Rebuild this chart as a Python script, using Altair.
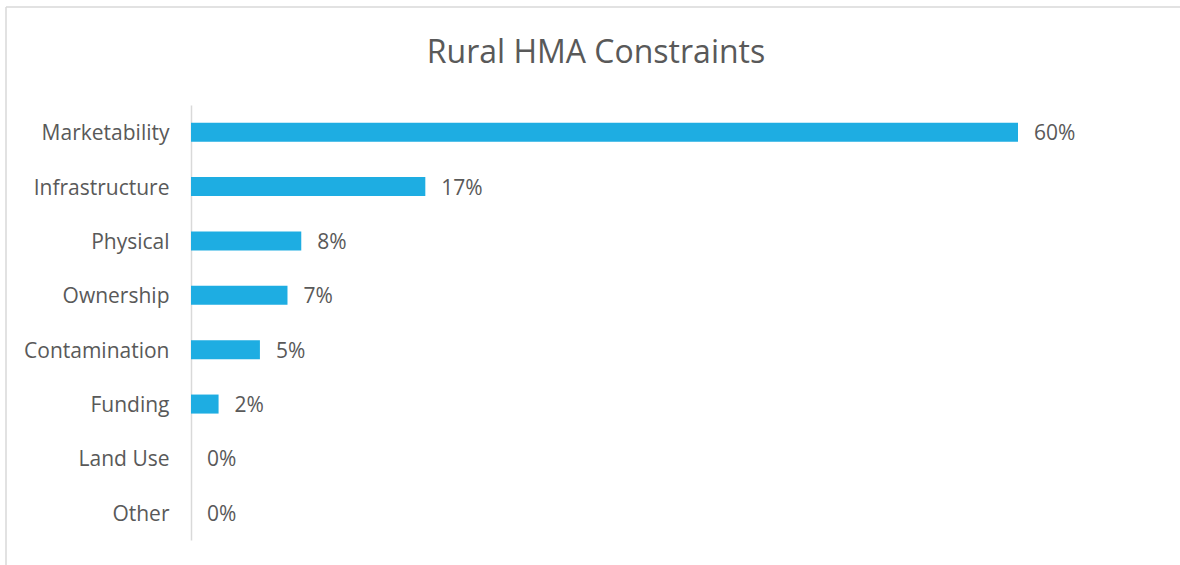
import altair as alt
import pandas as pd

categories = ["Marketability", "Infrastructure", "Physical", "Ownership",
              "Contamination", "Funding", "Land Use", "Other"]
values = [0.60, 0.17, 0.08, 0.07, 0.05, 0.02, 0.0, 0.0]
title_text = "Rural HMA Constraints"

df = pd.DataFrame({"category": categories, "value": values})

FONT = "Open Sans"
GRAY = "#595959"
LINE = "#d9d9d9"

base = alt.Chart(df).encode(
    y=alt.Y("category:N", sort=categories,
            scale=alt.Scale(paddingInner=0.65, paddingOuter=0.325),
            axis=alt.Axis(title=None, ticks=False, domainColor=LINE, domainWidth=1.5,
                          labelFont=FONT, labelFontSize=21, labelColor=GRAY,
                          labelPadding=22, labelOffset=2)),
    x=alt.X("value:Q", scale=alt.Scale(domain=[0, 0.6], nice=False),
            axis=None),
)

bars = base.mark_bar(color="#1eade2")
labels = base.mark_text(align="left", baseline="middle", dx=16, dy=2, font=FONT,
                        fontSize=21, color=GRAY).encode(
    text=alt.Text("value:Q", format=".0%"))

frame_df = pd.DataFrame({"t": [title_text]})
top_line = alt.Chart(frame_df).mark_rule(color=LINE, strokeWidth=1.5).encode(
    x=alt.value(-185), x2=alt.value(989), y=alt.value(-98))
left_line = alt.Chart(frame_df).mark_rule(color=LINE, strokeWidth=1.5).encode(
    x=alt.value(-185), y=alt.value(-98), y2=alt.value(460))
title = alt.Chart(frame_df).mark_text(
    font=FONT, fontSize=32, color=GRAY, align="center", baseline="alphabetic"
).encode(x=alt.value(405), y=alt.value(-42), text="t:N")

chart = alt.layer(top_line, left_line, bars, labels, title).properties(
    width=827, height=435,
    background="white",
    autosize=alt.AutoSizeParams(type="none"),
    padding={"left": 191, "top": 105, "right": 162, "bottom": 25},
).configure_view(stroke=None)

chart.save("out.html", embed_options={"renderer": "svg", "actions": False})
